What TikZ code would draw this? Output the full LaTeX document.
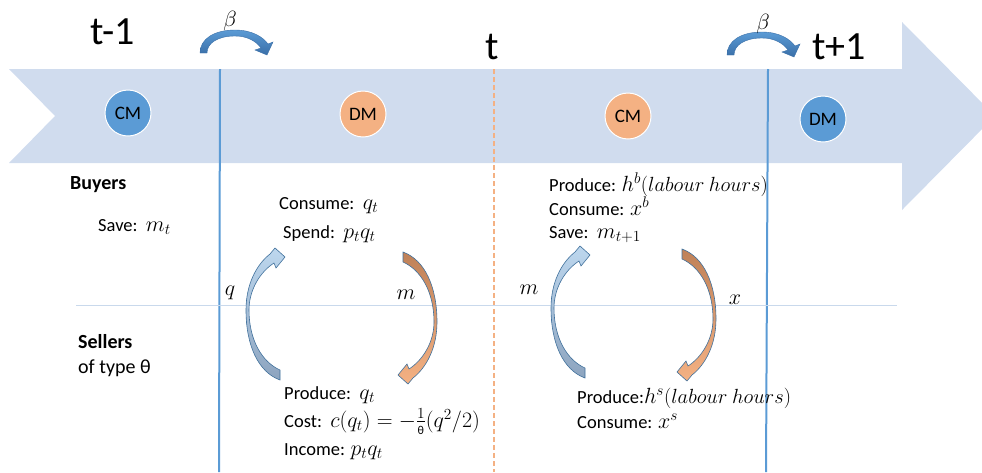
\RequirePackage{fix-cm}
\documentclass[tikz,border=0pt]{standalone}
\usepackage{fontspec}
\setmainfont{Carlito}

\definecolor{band}{HTML}{D0DCEE}
\definecolor{cmblue}{HTML}{5B9BD5}
\definecolor{dmorange}{HTML}{F4B183}
\definecolor{rimblue}{HTML}{41719C}
\definecolor{qtop}{HTML}{BDD7EE}
\definecolor{qbot}{HTML}{8DA4BF}
\definecolor{mtop}{HTML}{BF8158}
\definecolor{mbot}{HTML}{F4B183}
\definecolor{betatop}{HTML}{5B9BD5}
\definecolor{betabot}{HTML}{3A6FA8}
\definecolor{sepblue}{HTML}{C9D9EC}

\newcommand{\mth}[1]{{\fontsize{22}{24}\selectfont$#1$}}
\newcommand{\hrs}{{\fontsize{20.5}{22}\selectfont$(labour\ hours)$}}

\tikzset{
  market/.style={circle, draw=white, line width=1pt, minimum size=46pt, inner sep=0pt,
    font=\fontsize{19}{22}\selectfont},
  txt/.style={anchor=base west, inner sep=0pt, font=\fontsize{18.5}{22}\selectfont},
  head/.style={anchor=base west, inner sep=0pt, font=\fontsize{20}{24}\selectfont\bfseries},
  flow/.style={inner sep=0pt, font=\fontsize{22}{24}\selectfont},
  period/.style={anchor=base west, inner sep=0pt},
  goods/.style={top color=qtop, bottom color=qbot, draw=rimblue, line width=0.6pt},
  money/.style={top color=mtop, bottom color=mbot, draw=rimblue, line width=0.6pt},
  discount/.style={top color=betatop, bottom color=betabot, draw=betabot, line width=0.4pt}
}

% curved arrows, local pixel units, y downwards
\newcommand{\upArrow}{(15,65) .. controls (-7,57) and (-19,30) .. (-19,-5)
  .. controls (-19,-30) and (-9,-50) .. (5,-61) -- (10,-67) -- (20,-58) -- (11,-47) -- (9,-52)
  .. controls (-5,-43) and (-16,-25) .. (-16,-5) .. controls (-16,25) and (-3,47) .. (15,55) -- cycle}
\newcommand{\downArrow}{(-15,-65) .. controls (7,-57) and (19,-30) .. (19,5)
  .. controls (19,30) and (9,50) .. (-5,61) -- (-10,67) -- (-20,58) -- (-11,47) -- (-9,52)
  .. controls (5,43) and (16,25) .. (16,5) .. controls (16,-25) and (3,-47) .. (-15,-55) -- cycle}
\newcommand{\betaArrow}{(0,0) .. controls (0,-14) and (14,-23) .. (35,-23)
  .. controls (52,-23) and (63,-16) .. (68,-9) -- (73,-11) -- (67,2) -- (55,-3) -- (61,-5)
  .. controls (56,-12) and (47,-17) .. (35,-17) .. controls (18,-17) and (7,-10) .. (7,0) -- cycle}

\begin{document}
\begin{tikzpicture}[x=1pt, y=-1pt]
\useasboundingbox (0,0) rectangle (982,472);
\clip (0,0) rectangle (982,472);

% time line
\fill[band] (9,69) -- (902,69) -- (902,22) -- (995,116) -- (902,210) -- (902,163)
  -- (9,163) -- (55,116) -- cycle;

\draw[cmblue, line width=2pt] (220,69) -- (219,472);
\draw[cmblue, line width=2pt] (768,69) -- (766,472);
\draw[dmorange, line width=1.5pt, dash pattern=on 5pt off 3pt] (494,69) -- (494,472);
\draw[sepblue, line width=0.8pt] (76,305) -- (897,305);

\node[market, fill=cmblue] (cm1) at (128,113) {CM};
\node[market, fill=dmorange] (dm1) at (363,114) {DM};
\node[market, fill=dmorange] (cm2) at (628,116) {CM};
\node[market, fill=cmblue] (dm2) at (823,119) {DM};

\node[period, font=\fontsize{40}{44}\selectfont] (tm1) at (90,44) {t-1};
\node[period, font=\fontsize{40}{44}\selectfont] (t0) at (485,59) {t};
\node[period, font=\fontsize{40}{44}\selectfont] (tp1) at (812,59) {t+1};

% discounting
\shade[discount, shift={(200,53)}] \betaArrow;
\shade[discount, shift={(727,55)}] \betaArrow;
\node[flow] (beta1) at (230,21) {$\beta$};
\node[flow] (beta2) at (763,24) {$\beta$};

% exchange
\shade[goods, shift={(265,315)}] \upArrow;
\shade[money, shift={(418,317)}] \downArrow;
\shade[goods, shift={(570,313)}] \upArrow;
\shade[money, shift={(697,314)}] \downArrow;

\node[flow] (lq) at (230,293) {$q$};
\node[flow] (lm1) at (406,295) {$m$};
\node[flow] (lm2) at (529,290) {$m$};
\node[flow] (lx) at (735,300) {$x$};

% agents
\node[head] (buyers) at (70,189) {Buyers};
\node[txt] (save1) at (98,231) {Save:\ \ \mth{m_t}};
\node[head] (sellers) at (78,348) {Sellers};
\node[txt, font=\fontsize{20}{24}\selectfont] (type) at (78,373) {of type θ};

\node[txt] (cons1) at (279,209) {Consume:\ \ \mth{q_t}};
\node[txt] (spend) at (283,238) {Spend:\ \ \mth{p_tq_t}};
\node[txt] (prod1) at (284,399) {Produce:\ \ \mth{q_t}};
\node[txt] (cost) at (284,427) {Cost:\ \ \mth{c(q_t)=-\frac{1}{\mbox{\fontsize{12}{13}\selectfont θ}}(q^2/2)}};
\node[txt] (income) at (284,455) {Income: \mth{p_tq_t}};

\node[txt] (prodb) at (549,191) {Produce: \mth{h^b}\hrs};
\node[txt] (consb) at (549,215) {Consume: \mth{x^b}};
\node[txt] (save2) at (549,238) {Save:\ \ \mth{m_{t+1}}};
\node[txt] (prods) at (577,403) {Produce:\mth{h^s}\hrs};
\node[txt] (conss) at (577,428) {Consume: \mth{x^s}};

\end{tikzpicture}
\end{document}
